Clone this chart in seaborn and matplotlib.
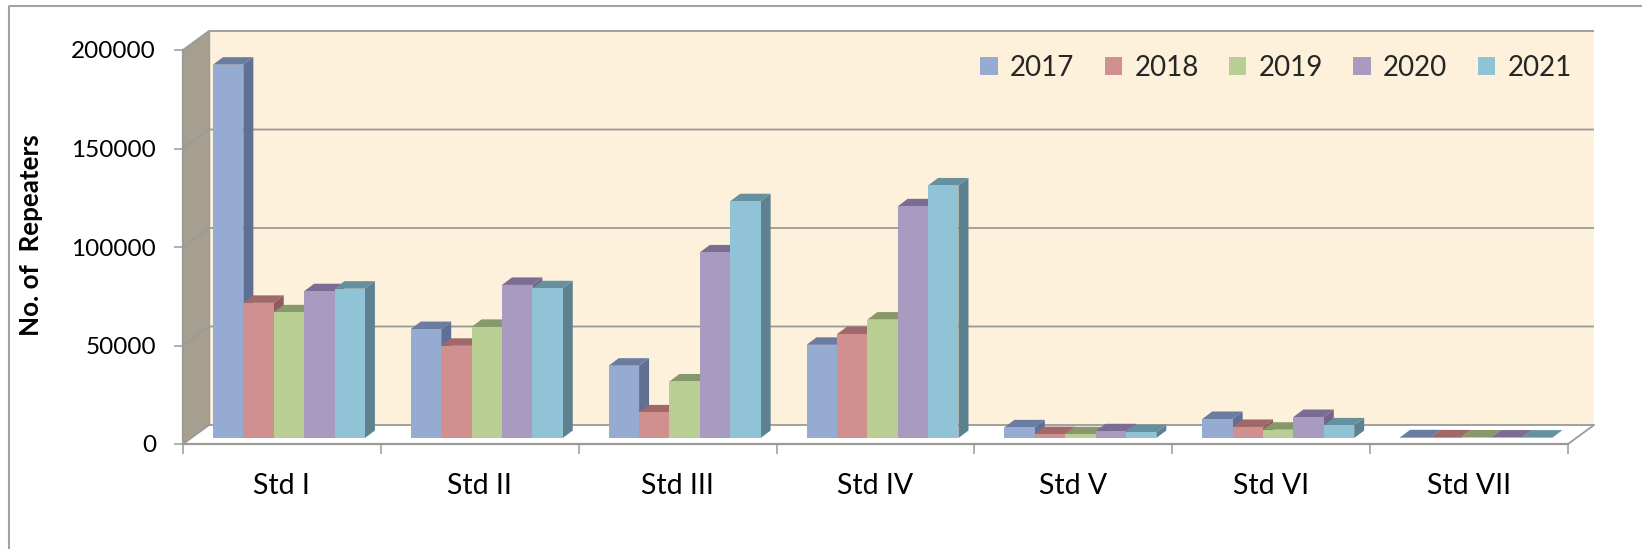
#!/usr/bin/python3
# -*- coding: utf8 -*-

import matplotlib
matplotlib.use('Agg')
import matplotlib.pyplot as plt
import seaborn as sns
import pandas as pd
from matplotlib.lines import Line2D

standards = ['Std I', 'Std II', 'Std III', 'Std IV', 'Std V', 'Std VI', 'Std VII']
years = ['2017', '2018', '2019', '2020', '2021']

rep_2017 = [189500, 55300, 36700, 47300, 5400, 9650, 350]
rep_2018 = [68600, 46800, 13000, 52700, 2000, 5600, 300]
rep_2019 = [63800, 56400, 28700, 60100, 1900, 4200, 250]
rep_2020 = [74500, 77700, 94200, 117600, 3400, 10650, 250]
rep_2021 = [75800, 76000, 120200, 128200, 3000, 6400, 200]

front_cols = ['#95ABD2', '#D09090', '#B8CE93', '#A99ABF', '#90C3D6']
side_cols = ['#5F7094', '#8F5C5C', '#7C8C60', '#72648A', '#5D818E']
top_cols = ['#6A7CA0', '#A06868', '#87996A', '#7A6C93', '#65919F']

W, H = 1642, 549
# front plane of the fake 3d box, in pixels
LEFT, RIGHT, Y0, Y200 = 183, 1568, 444, 50
GREY = '#9A9A96'

df = pd.DataFrame({'std': standards * 5,
                   'year': [y for y in years for _ in standards],
                   'val': rep_2017 + rep_2018 + rep_2019 + rep_2020 + rep_2021})

sns.set_theme(style='white')
plt.rcParams['font.family'] = ['Lato', 'DejaVu Sans']

fig = plt.figure(figsize=(W / 100, H / 100), dpi=100)
ax = fig.add_axes([LEFT / W, 1 - Y0 / H, (RIGHT - LEFT) / W, (Y0 - Y200) / H])

sns.barplot(data=df, x='std', y='val', hue='year', order=standards, hue_order=years,
            palette=front_cols, saturation=1, width=0.768, gap=0, ax=ax, errorbar=None,
            linewidth=0, zorder=5)

ax.set_xlim(-0.5, 6.5)
ax.set_ylim(0, 200000)

unit_x = 7 / (RIGHT - LEFT)        # data units per pixel, x
unit_y = 200000 / (Y0 - Y200)      # data units per pixel, y

# box depth and bar depth
back_x, back_y = 26 * unit_x, 19 * unit_y
bar_dx, bar_dy = 10 * unit_x, 7.5 * unit_y
shift_x, base_y = 7 * unit_x, 6 * unit_y

x0, x1 = -0.5, 6.5
# walls and floor
ax.fill([x0 + back_x, x1 + back_x, x1 + back_x, x0 + back_x],
        [back_y, back_y, 200000 + back_y, 200000 + back_y],
        color='#FDF1DB', lw=0, clip_on=False, zorder=0.5)
ax.fill([x0, x0 + back_x, x0 + back_x, x0], [0, back_y, 200000 + back_y, 200000],
        color='#A69F8F', lw=0, clip_on=False, zorder=1)

# gridlines go round the left wall and along the back one
for t in range(0, 250000, 50000):
    ax.plot([x0, x0 + back_x, x1 + back_x], [t, t + back_y, t + back_y],
            color=GREY, lw=1.3, clip_on=False, zorder=2, solid_capstyle='butt')
ax.plot([x0 + back_x, x0 + back_x], [back_y, 200000 + back_y], color=GREY, lw=1.0, clip_on=False, zorder=2)
ax.plot([x1, x1 + back_x], [0, back_y], color=GREY, lw=1.3, clip_on=False, zorder=2)

# bars: move the front faces back onto the floor and add side and top
for h_i, cont in enumerate(ax.containers):
    for c_i, bar in enumerate(cont):
        z = 5 + c_i + h_i * 0.1
        bx = bar.get_x() + shift_x
        bw = bar.get_width()
        top = base_y + bar.get_height()
        bar.set_x(bx)
        bar.set_y(base_y)
        bar.set_zorder(z + 0.02)
        ax.fill([bx + bw, bx + bw + bar_dx, bx + bw + bar_dx, bx + bw],
                [base_y, base_y + bar_dy, top + bar_dy, top],
                color=side_cols[h_i], lw=0, zorder=z)
        ax.fill([bx, bx + bar_dx, bx + bw + bar_dx, bx + bw],
                [top, top + bar_dy, top + bar_dy, top],
                color=top_cols[h_i], lw=0, zorder=z + 0.01)

sns.despine(ax=ax, right=True, top=True)
for s in ['left', 'bottom']:
    ax.spines[s].set_color(GREY)
    ax.spines[s].set_linewidth(1.6)
    ax.spines[s].set_zorder(3)

ax.set_yticks(range(0, 250000, 50000))
ax.set_xticks(range(7))
ax.set_xticks([i - 0.5 for i in range(8)], minor=True)
ax.tick_params(axis='y', length=6.5, width=1.1, color=GREY, pad=13, labelsize=17.5, left=True, labelcolor='black')
ax.tick_params(axis='x', which='major', length=0, pad=21, labelsize=20.5, labelcolor='black')
ax.tick_params(axis='x', which='minor', length=7, width=1.1, color=GREY, bottom=True)

ax.set_xlabel('')
ax.set_ylabel('')
fig.text(31 / W, 1 - 235 / H, 'No. of  Repeaters', rotation=90, ha='center', va='center',
         fontsize=18.7, fontweight='bold', color='black')

sns.move_legend(ax, 'center', bbox_to_anchor=((1276 - LEFT) / (RIGHT - LEFT), 1 - (68 - Y200) / (Y0 - Y200)),
                ncol=5, title=None, frameon=False, fontsize=20, handlelength=0.62, handleheight=0.62,
                handletextpad=0.45, columnspacing=1.09)
ax.get_legend().set_zorder(20)

# chart frame, only top and left fall inside the picture
fig.add_artist(Line2D([9 / W, 9 / W, 1], [0, 1 - 6 / H, 1 - 6 / H], color='#A3A3A3', lw=1.5))

fig.savefig('out.png', dpi=100)
plt.close()
